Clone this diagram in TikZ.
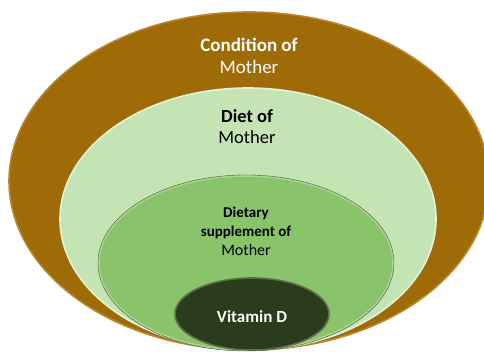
\documentclass[tikz,border=0pt]{standalone}
\usepackage{fontspec}
\setmainfont{Carlito}
\usetikzlibrary{shapes.geometric}
\definecolor{brownring}{HTML}{9E6B06}
\definecolor{brownrim}{HTML}{B8882E}
\definecolor{dietgreen}{HTML}{C4E4B4}
\definecolor{dietrim}{HTML}{E4F2DC}
\definecolor{suppgreen}{HTML}{8AC46A}
\definecolor{supprim}{HTML}{A8D890}
\definecolor{vitgreen}{HTML}{2A3C1C}
\definecolor{vitrim}{HTML}{5C6E4C}

\begin{document}
\begin{tikzpicture}[x=1pt,y=-1pt,
  ring/.style={ellipse,inner sep=0pt,line width=1.6pt},
  label/.style={align=center}]
\useasboundingbox (0,0) rectangle (484,352);
\node[ring,fill=brownring,draw=brownrim,minimum width=480pt,minimum height=338pt] (outer) at (249,181) {};
\node[ring,fill=dietgreen,draw=dietrim,minimum width=376pt,minimum height=262pt] (diet) at (248,219) {};
\node[ring,fill=suppgreen,draw=supprim,minimum width=294pt,minimum height=174pt] (supp) at (246,263) {};
\draw[gray!60!black,line width=0.4pt] (supp.center) ellipse (148pt and 88pt);
\node[ring,fill=vitgreen,draw=vitrim,minimum width=154pt,minimum height=72pt] (vitd) at (252,314) {};

\node[label,text=white,font=\fontsize{19}{22}\selectfont] (outertext) at (249,56) {\textbf{Condition of}\\Mother};
\node[label,font=\fontsize{18.5}{21}\selectfont] (diettext) at (247,127) {\textbf{Diet of}\\Mother};
\node[label,font=\fontsize{15}{19}\selectfont] (supptext) at (246,231) {\textbf{Dietary}\\\textbf{supplement of}\\{\fontsize{16}{19}\selectfont Mother}};
\node[label,text=white,font=\fontsize{17}{20}\selectfont] (vittext) at (252,317) {\textbf{Vitamin D}};
\end{tikzpicture}
\end{document}
